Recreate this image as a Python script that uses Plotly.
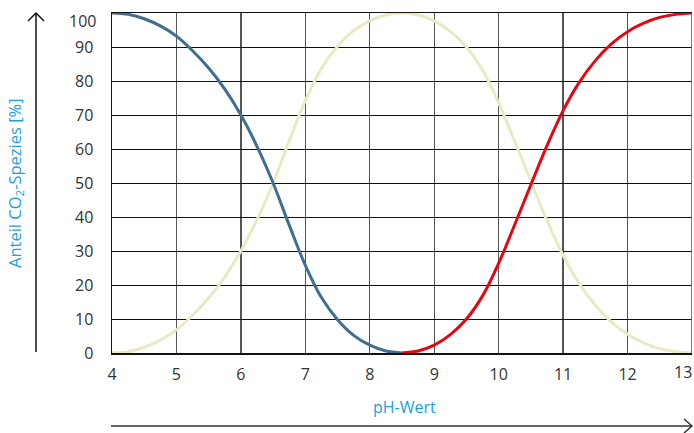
import plotly.graph_objects as go

# ---- data ----
ph = [4.0, 4.25, 4.5, 4.75, 5.0, 5.25, 5.5, 5.75, 6.0, 6.25, 6.5, 6.75, 7.0, 7.25, 7.5, 7.75, 8.0, 8.25, 8.5,
      8.75, 9.0, 9.25, 9.5, 9.75, 10.0, 10.25, 10.5, 10.75, 11.0, 11.25, 11.5, 11.75, 12.0, 12.25, 12.5, 12.75, 13.0]

ph_co2 = [4.0, 4.25, 4.5, 4.75, 5.0, 5.25, 5.5, 5.75, 6.0, 6.25, 6.5, 6.75, 7.0, 7.25, 7.5, 7.75, 8.0, 8.25, 8.5]
co2 = [100, 99.6, 98.3, 96.2, 93.2, 88.9, 83.8, 77.6, 70, 60.8, 50, 37.6, 25.8, 16.3, 9.8, 5.2, 2.3, 0.6, 0]

ph_co3 = [8.5, 8.75, 9.0, 9.25, 9.5, 9.75, 10.0, 10.25, 10.5, 10.75, 11.0, 11.25, 11.5, 11.75, 12.0, 12.25, 12.5, 12.75, 13.0]
co3 = [0, 0.6, 2.3, 5.4, 10, 16.8, 26.4, 37.8, 49.5, 61, 71.3, 79.6, 86, 90.9, 94.5, 97, 98.7, 99.6, 100]

hco3 = [0, 0.4, 1.7, 3.8, 6.8, 11.1, 16.2, 22.4, 30, 39.2, 50, 62.4, 74.2, 83.7, 90.2, 94.8, 97.7, 99.4, 100,
        99.4, 97.7, 94.6, 90, 83.2, 73.6, 62.2, 50.5, 39, 28.7, 20.4, 14, 9.1, 5.5, 3, 1.3, 0.4, 0]

x_ticks = [4, 5, 6, 7, 8, 9, 10, 11, 12, 13]
y_ticks = [0, 10, 20, 30, 40, 50, 60, 70, 80, 90, 100]

x_title = "pH-Wert"
y_title = "Anteil CO<sub>2</sub>-Spezies [%]"

# ---- style ----
W, H = 694, 433
ML, MR, MT, MB = 112, 2, 13, 80
PW, PH = W - ML - MR, H - MT - MB
FONT = "Open Sans"
TXT = "#333333"
CYAN = "#1a9fe0"


def px(xp):
    return (xp - ML) / PW


def py(yp):
    return (H - MB - yp) / PH


fig = go.Figure()
fig.add_trace(go.Scatter(x=ph, y=hco3, mode="lines", line=dict(color="#ebe9c4", width=3, shape="spline"),
                         hoverinfo="skip", showlegend=False))
fig.add_trace(go.Scatter(x=ph_co2, y=co2, mode="lines", line=dict(color="#3e6e91", width=3, shape="spline"),
                         hoverinfo="skip", showlegend=False))
fig.add_trace(go.Scatter(x=ph_co3, y=co3, mode="lines", line=dict(color="#e30613", width=3, shape="spline"),
                         hoverinfo="skip", showlegend=False))

fig.update_layout(
    width=W, height=H,
    margin=dict(l=ML, r=MR, t=MT, b=MB, pad=0),
    paper_bgcolor="white", plot_bgcolor="white",
    font=dict(family=FONT, size=16, color=TXT),
    hovermode=False,
    xaxis=dict(range=[4, 13], tickvals=x_ticks[:-1], showgrid=True, gridcolor="#555555", gridwidth=1.3,
               showline=True, linecolor="#111111", linewidth=1.5, mirror=True, zeroline=False,
               ticks="", ticklabelstandoff=6, tickfont=dict(family=FONT, size=16, color=TXT)),
    yaxis=dict(range=[0, 100], tickvals=y_ticks[:-1], showgrid=True, gridcolor="#111111",
               gridwidth=1, showline=True, linecolor="#111111", linewidth=1.5, zeroline=False,
               ticks="", ticklabelstandoff=14, tickfont=dict(family=FONT, size=16, color=TXT)),
)

annotations = [
    # top y label (sits a little below its grid line, as in the reference)
    dict(x=0, xref="paper", xshift=-14, xanchor="right", y=y_ticks[-1], yref="y", yshift=-8, yanchor="middle",
         text=str(y_ticks[-1]), showarrow=False, font=dict(family=FONT, size=16, color=TXT)),
    # last x label kept inside the page
    dict(x=x_ticks[-1], xref="x", xshift=2, xanchor="right", y=0, yref="paper", yshift=-6, yanchor="top",
         text=str(x_ticks[-1]), showarrow=False, font=dict(family=FONT, size=16, color=TXT)),
    dict(x=px(404), y=py(407), xref="paper", yref="paper", xanchor="center", yanchor="middle",
         text=x_title, showarrow=False, font=dict(family=FONT, size=16, color=CYAN)),
    dict(x=px(15), y=py(183), xref="paper", yref="paper", xanchor="center", yanchor="middle",
         text=y_title, textangle=-90, showarrow=False, font=dict(family=FONT, size=16.5, color=CYAN)),
]
fig.update_layout(annotations=annotations)

ARW = "#333333"
shapes = [
    # right frame line at pH 13
    dict(type="line", xref="x", yref="y", x0=13, x1=13, y0=0, y1=100, line=dict(color="#555555", width=1.5)),
    # horizontal arrow
    dict(type="line", xref="paper", yref="paper", x0=px(111), x1=px(692), y0=py(426), y1=py(426),
         line=dict(color=ARW, width=1.5)),
    dict(type="path", xref="paper", yref="paper",
         path=f"M {px(684)} {py(419)} L {px(692)} {py(426)} L {px(684)} {py(433)}",
         line=dict(color=ARW, width=1.5)),
    # vertical arrow
    dict(type="line", xref="paper", yref="paper", x0=px(36), x1=px(36), y0=py(352), y1=py(13),
         line=dict(color="#111111", width=1.5)),
    dict(type="path", xref="paper", yref="paper",
         path=f"M {px(28)} {py(21)} L {px(36)} {py(13)} L {px(44)} {py(21)}",
         line=dict(color="#111111", width=1.5)),
]
fig.update_layout(shapes=shapes)

fig.write_html("out.html", config={"displayModeBar": False, "staticPlot": True})

# remove the default page margin so the figure sits at the window's top-left corner
with open("out.html", "r", encoding="utf-8") as f:
    html = f.read()
html = html.replace("<head>", "<head><style>html,body{margin:0;padding:0;overflow:hidden;}</style>", 1)
with open("out.html", "w", encoding="utf-8") as f:
    f.write(html)
